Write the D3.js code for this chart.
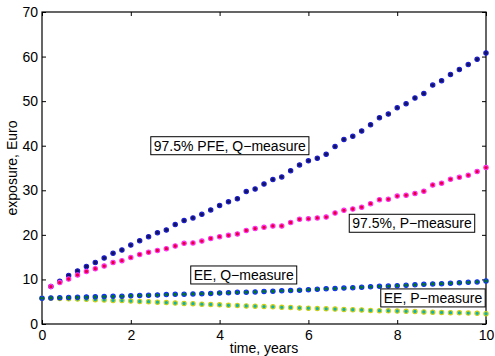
<!DOCTYPE html>
<html>
<head>
<meta charset="utf-8">
<script src="https://cdn.jsdelivr.net/npm/d3@7"></script>
<style>
  body { margin: 0; background: #fff; }
  text { font-family: "Liberation Sans", Arial, sans-serif; }
</style>
</head>
<body>
<div id="chart"></div>
<script>
// time grid, years
var timesPfe = [0.2, 0.4, 0.6, 0.8, 1.0, 1.2, 1.4, 1.6, 1.8, 2.0, 2.2, 2.4, 2.6, 2.8, 3.0, 3.2, 3.4, 3.6, 3.8, 4.0,
    4.2, 4.4, 4.6, 4.8, 5.0, 5.2, 5.4, 5.6, 5.8, 6.0, 6.2, 6.4, 6.6, 6.8, 7.0, 7.2, 7.4, 7.6, 7.8, 8.0,
    8.2, 8.4, 8.6, 8.8, 9.0, 9.2, 9.4, 9.6, 9.8, 10.0];
var timesEe = [0].concat(timesPfe);

// exposures, Euro
var pfeQ = [8.4, 9.6, 10.9, 11.9, 12.9, 13.8, 14.8, 15.9, 16.6, 17.7, 18.7, 19.6, 20.5, 21.1, 22.3, 23.2, 23.8, 24.6, 25.6, 26.6,
    27.4, 28.1, 29.7, 30.3, 31.4, 32.4, 33.0, 34.4, 35.7, 36.6, 37.2, 38.1, 39.8, 41.4, 42.1, 43.3, 44.7, 46.3, 47.1, 48.5,
    49.4, 50.7, 51.7, 53.6, 54.6, 56.0, 57.1, 58.2, 59.4, 60.8];
var pfeP = [8.4, 9.3, 10.1, 11.0, 11.8, 12.4, 13.0, 13.8, 14.2, 14.9, 15.6, 16.1, 16.5, 16.9, 17.5, 18.1, 18.2, 18.6, 19.2, 19.6,
    19.9, 20.2, 21.0, 21.4, 21.7, 22.0, 22.0, 22.8, 23.5, 23.6, 23.8, 24.0, 24.9, 25.5, 25.8, 26.2, 27.0, 27.9, 28.0, 28.7,
    28.9, 29.3, 29.8, 31.2, 31.6, 32.5, 32.9, 33.4, 34.2, 35.1];
var eeQ = [5.8, 5.85, 5.9, 5.95, 6.0, 6.05, 6.1, 6.15, 6.2, 6.25, 6.35, 6.4, 6.45, 6.5, 6.6, 6.65, 6.7, 6.75, 6.8, 6.85, 6.95,
    7.0, 7.1, 7.15, 7.2, 7.3, 7.35, 7.45, 7.5, 7.6, 7.7, 7.8, 7.9, 7.95, 8.05, 8.15, 8.25, 8.35, 8.45, 8.5, 8.6,
    8.7, 8.8, 8.9, 9.0, 9.05, 9.15, 9.25, 9.35, 9.45, 9.65];
var eeP = [5.8, 5.75, 5.7, 5.65, 5.6, 5.55, 5.45, 5.4, 5.3, 5.25, 5.15, 5.05, 5.0, 4.9, 4.8, 4.7, 4.6, 4.55, 4.45, 4.4, 4.3,
    4.2, 4.15, 4.05, 4.0, 3.9, 3.85, 3.75, 3.7, 3.6, 3.55, 3.45, 3.4, 3.35, 3.25, 3.2, 3.15, 3.05, 3.0, 2.95, 2.9,
    2.85, 2.8, 2.7, 2.65, 2.6, 2.55, 2.5, 2.45, 2.4, 2.3];

var xTicks = [0, 2, 4, 6, 8, 10];
var yTicks = [0, 10, 20, 30, 40, 50, 60, 70];

// text boxes: label, x (years), y (Euro) of left-middle anchor
var labelNames = ["97.5% PFE, Q\u2212measure", "97.5%, P\u2212measure", "EE, Q\u2212measure", "EE, P\u2212measure"];
var labelX = [2.45, 6.92, 3.35, 7.63];
var labelY = [40, 22.6, 11.0, 5.85];

var margin = { top: 12, right: 9, bottom: 32, left: 42 };
var width = 495 - margin.left - margin.right;
var height = 356 - margin.top - margin.bottom;

var x = d3.scaleLinear().domain([0, 10]).range([0, width]);
var y = d3.scaleLinear().domain([0, 70]).range([height, 0]);

var svg = d3.select("#chart").append("svg")
    .attr("width", 495)
    .attr("height", 356)
    .append("g")
    .attr("transform", "translate(" + margin.left + "," + margin.top + ")");

// axes, ticks inward, mirrored on top and right
function styleAxis(g) {
    g.select(".domain").remove();
    g.selectAll("line").attr("stroke", "#000");
    g.selectAll("text").attr("font-size", "14px").attr("fill", "#000");
}
svg.append("g")
    .attr("transform", "translate(0," + height + ")")
    .call(d3.axisBottom(x).tickValues(xTicks).tickSizeInner(-4).tickSizeOuter(0).tickPadding(6))
    .call(styleAxis);
svg.append("g")
    .call(d3.axisTop(x).tickValues(xTicks).tickSizeInner(-4).tickSizeOuter(0).tickFormat(""))
    .call(styleAxis);
svg.append("g")
    .call(d3.axisLeft(y).tickValues(yTicks).tickSizeInner(-4).tickSizeOuter(0).tickPadding(4))
    .call(styleAxis);
svg.append("g")
    .attr("transform", "translate(" + width + ",0)")
    .call(d3.axisRight(y).tickValues(yTicks).tickSizeInner(-4).tickSizeOuter(0).tickFormat(""))
    .call(styleAxis);

svg.append("rect")
    .attr("width", width)
    .attr("height", height)
    .attr("fill", "none")
    .attr("stroke", "#000")
    .attr("stroke-width", 1.2);

// series of dots
function dots(xs, ys, face, edge) {
    svg.append("g").selectAll("circle")
        .data(ys)
        .enter()
        .append("circle")
        .attr("cx", function (d, i) { return x(xs[i]); })
        .attr("cy", function (d) { return y(d); })
        .attr("r", 2.2)
        .attr("fill", face)
        .attr("stroke", edge)
        .attr("stroke-width", 1.1);
}
dots(timesPfe, pfeQ, "#14145a", "#1c1cd0");
dots(timesPfe, pfeP, "#e80038", "#ff30f0");
dots(timesEe, eeP, "#10b0b0", "#d0d010");
dots(timesEe, eeQ, "#007a10", "#1030f8");

// text boxes
labelNames.forEach(function (name, i) {
    var g = svg.append("g");
    var t = g.append("text")
        .attr("x", x(labelX[i]) + 3)
        .attr("y", y(labelY[i]))
        .attr("dy", "0.36em")
        .attr("font-size", "14px")
        .attr("fill", "#000")
        .text(name);
    var w = t.node().getComputedTextLength();
    g.insert("rect", "text")
        .attr("x", x(labelX[i]))
        .attr("y", y(labelY[i]) - 9)
        .attr("width", w + 6)
        .attr("height", 18)
        .attr("fill", "#fff")
        .attr("stroke", "#000")
        .attr("stroke-width", 1);
});

// axis labels
svg.append("text")
    .attr("x", width / 2)
    .attr("y", height + 29)
    .attr("text-anchor", "middle")
    .attr("font-size", "14px")
    .text("time, years");

svg.append("text")
    .attr("transform", "rotate(-90)")
    .attr("x", -height / 2)
    .attr("y", -margin.left + 12)
    .attr("dy", "0.35em")
    .attr("text-anchor", "middle")
    .attr("font-size", "14px")
    .text("exposure, Euro");
</script>
</body>
</html>
